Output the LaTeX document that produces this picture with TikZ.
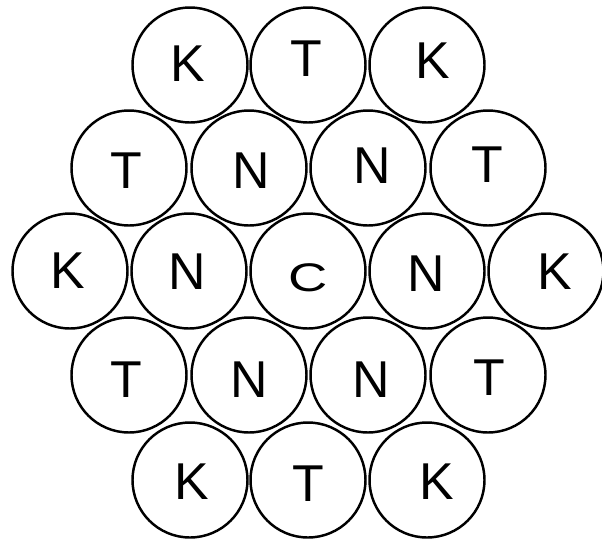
\documentclass[tikz,border=0pt]{standalone}
\usepackage{fontspec}
\setmainfont{Liberation Sans}
\newlength{\pxunit}
\setlength{\pxunit}{0.02cm}
% move a label inside its ball without changing its box
\newcommand{\lbl}[3]{\raisebox{-#2\pxunit}[\height][\depth]{\hspace*{#1\pxunit}#3\hspace*{-#1\pxunit}}}

\begin{document}
\begin{tikzpicture}[
  x=0.02cm, y=-0.02cm,
  font=\fontsize{29.5}{30}\selectfont,
  ball/.style={draw=black, circle, line width=1.4pt, minimum size=2.3cm, inner sep=0pt}
]
\useasboundingbox (0,0) rectangle (602,542);
% top row
\node[ball] (k1) at (190,65)  {\lbl{-2}{-1}{K}};
\node[ball] (t1) at (308,65)  {\lbl{-1.5}{-6}{T}};
\node[ball] (k2) at (427,65)  {\lbl{6}{-4.5}{K}};
% second row
\node[ball] (t2) at (129,168) {\lbl{-3}{3}{T}};
\node[ball] (n1) at (249,168) {\lbl{2}{3}{N}};
\node[ball] (n2) at (368,168) {\lbl{4}{-2.5}{N}};
\node[ball] (t3) at (488,168) {\lbl{-1}{-3}{T}};
% middle row
\node[ball] (k3) at (70,271)  {\lbl{-2.5}{0}{K}};
\node[ball] (n3) at (189,271) {\lbl{-1.5}{0.5}{N}};
\node[ball] (c)  at (308,271) {\lbl{0}{6.5}{\scalebox{1.05}[0.77]{C}}};
\node[ball] (n4) at (427,271) {\lbl{-1}{3}{N}};
\node[ball] (k4) at (546,271) {\lbl{9}{0.5}{K}};
% fourth row
\node[ball] (t4) at (129,375) {\lbl{-3}{4.5}{T}};
\node[ball] (n5) at (249,375) {\lbl{0}{5}{N}};
\node[ball] (n6) at (368,375) {\lbl{3}{5}{N}};
\node[ball] (t5) at (488,375) {\lbl{1}{2.5}{T}};
% bottom row
\node[ball] (k5) at (190,480) {\lbl{2}{2}{K}};
\node[ball] (t6) at (308,480) {\lbl{0.5}{3.5}{T}};
\node[ball] (k6) at (427,480) {\lbl{10}{2}{K}};
\end{tikzpicture}
\end{document}
